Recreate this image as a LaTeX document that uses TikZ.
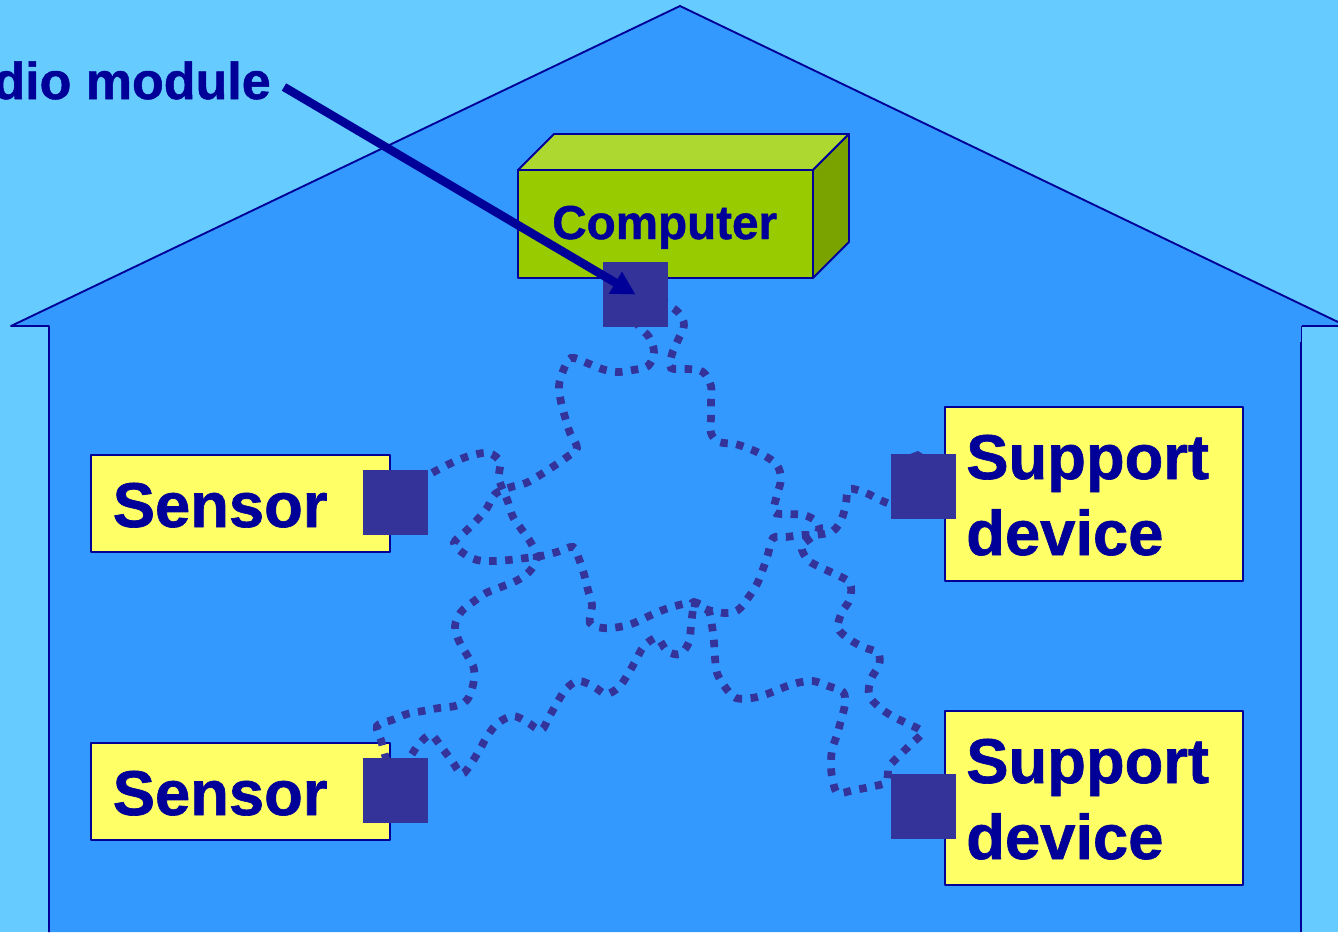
\documentclass[tikz,border=0pt]{standalone}
\usepackage{fontspec}
\setmainfont{Liberation Sans}[BoldFeatures={FakeBold=1}]
\usetikzlibrary{arrows.meta}
\definecolor{sky}{HTML}{66CCFF}
\definecolor{wallblue}{HTML}{3399FF}
\definecolor{navy}{HTML}{000099}
\definecolor{modblue}{HTML}{333399}
\definecolor{boxyellow}{HTML}{FFFF66}
\definecolor{frontgreen}{HTML}{99CC00}
\definecolor{topgreen}{HTML}{ADD830}
\definecolor{sidegreen}{HTML}{7AA300}
\tikzset{
  px/.style={x=0.75pt,y=-0.75pt},
  outline/.style={draw=navy,line width=1.4pt,line join=round},
  labelbox/.style={rectangle,outline,fill=boxyellow,text=navy,anchor=north west,inner sep=0pt,outer sep=0pt},
  module/.style={rectangle,fill=modblue,draw=none,minimum size=49.2pt,inner sep=0pt,outer sep=0pt},
  wire/.style={draw=modblue,line width=5.8pt,dash pattern=on 5.6pt off 6.4pt},
  boxtext/.style={text=navy,font=\bfseries\fontsize{47.5}{57}\selectfont,inner sep=0pt,anchor=base west,align=left},
}
\begin{document}
\begin{tikzpicture}[px]
\useasboundingbox (0,0) rectangle (1338,932);
\clip (0,0) rectangle (1338,932);
\fill[sky] (0,0) rectangle (1338,932);
% house
\fill[wallblue] (11,326) -- (680,6) -- (1338,322) -- (1338,326) -- (1301,326) -- (1301,932) -- (49,932) -- (49,326) -- cycle;
\draw[outline] (49,932) -- (49,326) -- (11,326) -- (680,6) -- (1338,322);
\draw[outline] (1338,326) -- (1301.5,326);
\draw[draw=navy,line width=0.6pt] (1301.5,326) -- (1301.5,342);
\draw[outline] (1301,342) -- (1301,932);
% computer
\filldraw[outline,fill=topgreen] (518,170) -- (554,134) -- (849,134) -- (813,170) -- cycle;
\filldraw[outline,fill=sidegreen] (813,170) -- (849,134) -- (849,242) -- (813,278) -- cycle;
\node[labelbox,fill=frontgreen,minimum width=221.25pt,minimum height=81pt] (computer) at (518,170) {};
\node[text=navy,font=\bfseries\fontsize{35.7}{42}\selectfont,inner sep=0pt,anchor=base west] (computerlabel) at (552,239) {Computer};
% label boxes
\node[labelbox,minimum width=224.25pt,minimum height=72.75pt] (sensorA) at (91,455) {};
\node[labelbox,minimum width=224.25pt,minimum height=72.75pt] (sensorB) at (91,743) {};
\node[labelbox,minimum width=223.5pt,minimum height=130.5pt] (supportA) at (945,407) {};
\node[labelbox,minimum width=223.5pt,minimum height=130.5pt] (supportB) at (945,711) {};
\node[boxtext] (sensorAtext) at (112.5,527) {Sensor};
\node[boxtext] (sensorBtext) at (112.5,815) {Sensor};
\node[boxtext] (supportAtext1) at (966,479) {Support};
\node[boxtext] (supportAtext2) at (966,555) {device};
\node[boxtext] (supportBtext1) at (966,783) {Support};
\node[boxtext] (supportBtext2) at (966,859) {device};
% wires (behind modules)
\draw[wire] plot[smooth,tension=0.55] coordinates {(635,320) (640,328) (649,337) (654,352) (648,366) (633,370) (617,372) (602,369) (587,363) (571,358) (563,371) (559,386) (561,402) (565,417) (570,433) (577,448) (567,457) (554,466) (540,475) (526,483) (511,487) (495,494) (487,508) (477,520) (466,531) (454,543) (463,553) (477,560) (493,561) (509,560) (526,558) (541,556) (557,552) (573,547) (579,559) (584,574) (588,590) (592,605) (590,623) (603,628) (619,627) (634,623) (649,616) (663,610) (679,605) (694,603) (708,610) (725,613) (738,610) (748,598) (757,584) (763,569) (768,554) (773,538) (786,537) (802,535) (815,535) (833,531) (842,518) (846,503) (849,489) (866,493) (880,500) (900,508)};
\draw[wire] plot[smooth,tension=0.55] coordinates {(660,300) (678,312) (684,325) (678,340) (672,354) (671,368) (688,369) (703,372) (711,386) (711,402) (711,417) (711,433) (719,442) (735,444) (750,449) (765,456) (777,465) (781,479) (777,495) (774,512) (788,514) (804,515) (817,522) (818,532) (802,546) (808,560) (822,568) (837,575) (850,583) (850,599) (842,612) (838,628) (849,639) (863,647) (878,653) (879,665) (871,679) (869,695) (879,707) (892,716) (906,723) (922,732) (911,744) (900,755) (889,767) (886,782) (870,787) (854,790) (838,793) (833,782) (831,767) (832,750) (837,735) (841,720) (845,704) (843,692) (828,686) (813,681) (797,683) (782,688) (767,694) (752,698) (736,698) (725,687) (717,673) (715,658) (714,642) (712,626) (708,610) (694,602) (693,609) (691,625) (689,642) (680,654) (667,651) (657,638) (644,646) (636,660) (628,674) (619,687) (606,694) (593,686) (578,681) (566,689) (557,703) (549,717) (541,730) (527,722) (513,716) (498,723) (488,735) (480,749) (472,762) (462,774) (452,761) (442,748) (431,735) (419,744) (410,757) (400,770)};
\draw[wire] plot[smooth,tension=0.55] coordinates {(418,480) (430,474) (443,467) (458,460) (473,455) (489,453) (500,462) (499,479) (508,502) (513,517) (522,530) (531,543) (537,558) (529,572) (516,581) (501,587) (486,593) (473,602) (461,612) (455,626) (459,641) (467,655) (474,669) (473,685) (467,700) (455,706) (439,708) (423,711) (407,714) (392,720) (377,726) (381,740) (385,755) (390,770)};
\fill[modblue] (905,456) -- (918,451) -- (926,456) -- cycle;
% modules
\node[module] (modC) at (635.5,294.5) {};
\node[module] (modSA) at (395.5,502.5) {};
\node[module] (modSB) at (395.5,790.5) {};
\node[module] (modDA) at (923.5,486.5) {};
\node[module] (modDB) at (923.5,806.5) {};
% radio module label and arrow
\node[text=navy,font=\bfseries\fontsize{39}{47}\selectfont,inner sep=0pt,anchor=base east] (radio) at (271,99) {dio module};
\coordinate (arrowstart) at (284,87);
\draw[navy,line width=6.4pt,-{Triangle[length=17.5pt,width=18pt]}] (arrowstart) -- (modC.center);
\end{tikzpicture}
\end{document}
